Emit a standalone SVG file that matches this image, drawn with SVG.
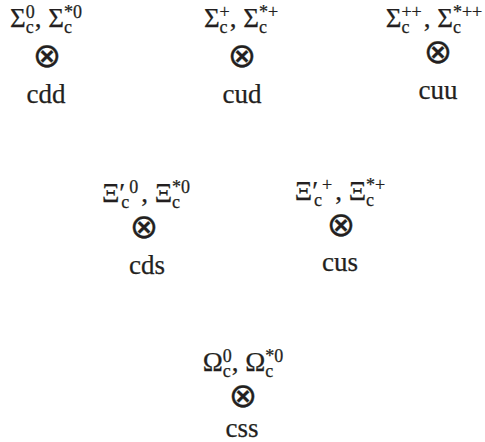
<svg xmlns="http://www.w3.org/2000/svg" width="485" height="442" viewBox="0 0 485 442">
<style>
.lab,.q{font-family:"Liberation Serif","Times New Roman",serif;fill:#231f20;stroke:#231f20;stroke-width:0.25;font-size:27px;text-anchor:middle}
.s{font-size:18px}
.ot{font-family:"DejaVu Sans",sans-serif;font-size:34px;text-anchor:middle;fill:#231f20;stroke:#231f20;stroke-width:0.3}
</style>
<rect width="485" height="442" fill="#fff"/>
<g id="connectors"></g>
<g id="n-cdd">
<text class="lab" x="46" y="27">Σ<tspan class="s" dy="6">c</tspan><tspan class="s" dx="-8" dy="-15">0</tspan><tspan dy="9">, Σ</tspan><tspan class="s" dy="6">c</tspan><tspan class="s" dx="-8" dy="-15">*0</tspan></text>
<text class="ot" x="47" y="67">⊗</text>
<text class="q" x="46" y="103">cdd</text>
</g>
<g id="n-cud">
<text class="lab" x="241" y="27">Σ<tspan class="s" dy="6">c</tspan><tspan class="s" dx="-8" dy="-15">+</tspan><tspan dy="9">, Σ</tspan><tspan class="s" dy="6">c</tspan><tspan class="s" dx="-8" dy="-15">*+</tspan></text>
<text class="ot" x="242" y="67">⊗</text>
<text class="q" x="242" y="103">cud</text>
</g>
<g id="n-cuu">
<text class="lab" x="434" y="27">Σ<tspan class="s" dy="6">c</tspan><tspan class="s" dx="-8" dy="-15">++</tspan><tspan dy="9" dx="2">, Σ</tspan><tspan class="s" dy="6">c</tspan><tspan class="s" dx="-8" dy="-15">*++</tspan></text>
<text class="ot" x="438" y="63">⊗</text>
<text class="q" x="438" y="99">cuu</text>
</g>
<g id="n-cds">
<text class="lab" x="146" y="202">Ξ′<tspan class="s" dx="-4" dy="6">c</tspan><tspan class="s" dy="-15">0</tspan><tspan dy="9" dx="3">, Ξ</tspan><tspan class="s" dy="6">c</tspan><tspan class="s" dx="-8" dy="-15">*0</tspan></text>
<text class="ot" x="144" y="238">⊗</text>
<text class="q" x="147" y="274">cds</text>
</g>
<g id="n-cus">
<text class="lab" x="340" y="200">Ξ′<tspan class="s" dx="-4" dy="6">c</tspan><tspan class="s" dy="-15">+</tspan><tspan dy="9" dx="3">, Ξ</tspan><tspan class="s" dy="6">c</tspan><tspan class="s" dx="-8" dy="-15">*+</tspan></text>
<text class="ot" x="341" y="236">⊗</text>
<text class="q" x="340" y="271">cus</text>
</g>
<g id="n-css">
<text class="lab" x="243" y="371">Ω<tspan class="s" dy="6">c</tspan><tspan class="s" dx="-8" dy="-15">0</tspan><tspan dy="9">, Ω</tspan><tspan class="s" dy="6">c</tspan><tspan class="s" dx="-8" dy="-15">*0</tspan></text>
<text class="ot" x="243" y="407">⊗</text>
<text class="q" x="242" y="437">css</text>
</g>
</svg>
